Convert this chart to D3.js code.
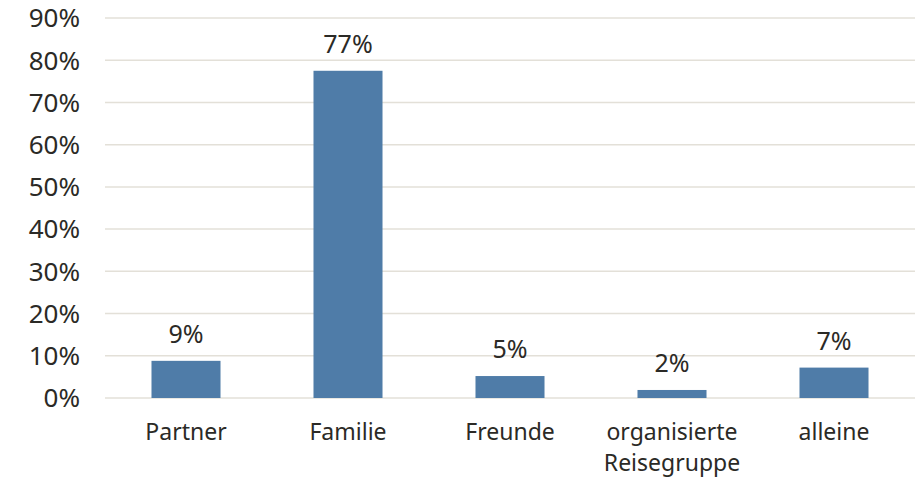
<!DOCTYPE html>
<html>
<head>
<meta charset="utf-8">
<script src="https://cdn.jsdelivr.net/npm/d3@7"></script>
<style>
  body { margin: 0; background: #fff; }
  text { font-family: "Noto Sans", sans-serif; fill: #2b2a26; }
</style>
</head>
<body>
<div id="chart"></div>
<script>
var categories = ['Partner', 'Familie', 'Freunde', 'organisierte Reisegruppe', 'alleine'];
var values = [0.088, 0.775, 0.052, 0.019, 0.072];
var valueLabels = ['9%', '77%', '5%', '2%', '7%'];
var yTicks = [0, 0.1, 0.2, 0.3, 0.4, 0.5, 0.6, 0.7, 0.8, 0.9];

var width = 923, height = 481;
var margin = {top: 18, right: 8, bottom: 83, left: 105};

var svg = d3.select('#chart').append('svg')
    .attr('width', width)
    .attr('height', height);

var x = d3.scaleBand()
    .domain(categories)
    .range([margin.left, width - margin.right])
    .paddingInner(0.574)
    .paddingOuter(0.287);

var y = d3.scaleLinear()
    .domain([0, 0.9])
    .range([height - margin.bottom, margin.top]);

// gridlines
svg.append('g')
    .selectAll('line')
    .data(yTicks)
    .enter().append('line')
    .attr('x1', margin.left)
    .attr('x2', width - margin.right)
    .attr('y1', function(d) { return y(d); })
    .attr('y2', function(d) { return y(d); })
    .attr('stroke', '#e3e0d8')
    .attr('stroke-width', 1.5);

// y labels
svg.append('g')
    .selectAll('text')
    .data(yTicks)
    .enter().append('text')
    .attr('x', 80)
    .attr('y', function(d) { return y(d); })
    .attr('dy', '0.36em')
    .attr('text-anchor', 'end')
    .style('font-size', '26px')
    .text(d3.format('.0%'));

// bars
svg.append('g')
    .selectAll('rect')
    .data(values)
    .enter().append('rect')
    .attr('x', function(d, i) { return x(categories[i]); })
    .attr('width', x.bandwidth())
    .attr('y', function(d) { return y(d); })
    .attr('height', function(d) { return y(0) - y(d); })
    .attr('fill', '#4f7ca8');

// value labels
svg.append('g')
    .selectAll('text')
    .data(values)
    .enter().append('text')
    .attr('x', function(d, i) { return x(categories[i]) + x.bandwidth() / 2; })
    .attr('y', function(d) { return y(d) - 18; })
    .attr('text-anchor', 'middle')
    .style('font-size', '25px')
    .text(function(d, i) { return valueLabels[i]; });

// category labels, wrapped on the space for the long one
var cat = svg.append('g')
    .selectAll('text')
    .data(categories)
    .enter().append('text')
    .attr('x', function(d) { return x(d) + x.bandwidth() / 2; })
    .attr('y', 440)
    .attr('text-anchor', 'middle')
    .style('font-size', '23px');

cat.each(function(d) {
    var words = d.length > 12 ? d.split(' ') : [d];
    var t = d3.select(this);
    words.forEach(function(w, i) {
        t.append('tspan')
            .attr('x', t.attr('x'))
            .attr('dy', i === 0 ? 0 : 31)
            .text(w);
    });
});
</script>
</body>
</html>
